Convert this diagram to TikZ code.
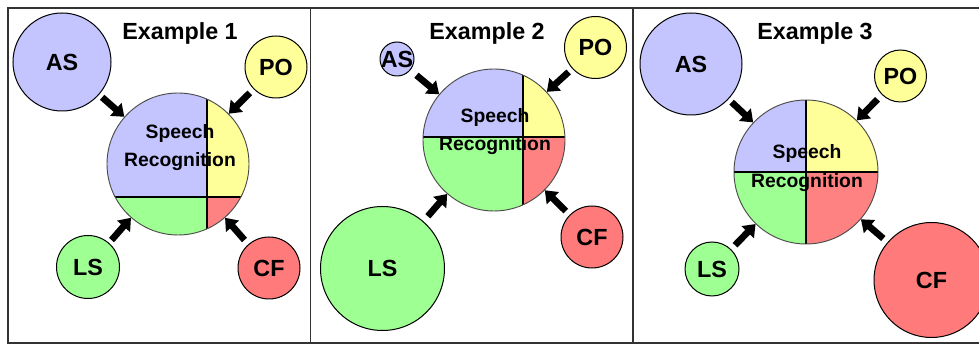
\documentclass[tikz,border=0pt]{standalone}
\usepackage{fontspec}
\setmainfont{Liberation Sans}
\usetikzlibrary{arrows.meta,calc}
\definecolor{cblue}{RGB}{196,196,255}
\definecolor{cyel}{RGB}{255,255,153}
\definecolor{cgrn}{RGB}{158,255,146}
\definecolor{cred}{RGB}{255,130,130}
\definecolor{cfred}{RGB}{255,122,122}
\newcommand\srpie[5]{%
  \begin{scope}
    \clip (#1,#2) circle[radius=#3];
    \fill[cblue] ({#1-#3-2},{#2-#3-2}) rectangle (#4,#5);
    \fill[cyel] (#4,{#2-#3-2}) rectangle ({#1+#3+2},#5);
    \fill[cgrn] ({#1-#3-2},#5) rectangle (#4,{#2+#3+2});
    \fill[cred] (#4,#5) rectangle ({#1+#3+2},{#2+#3+2});
    \draw[line width=0.8pt] (#4,{#2-#3-2}) -- (#4,{#2+#3+2});
    \draw[line width=0.8pt] ({#1-#3-2},#5) -- ({#1+#3+2},#5);
  \end{scope}}
\tikzset{
  cnode/.style={circle, draw=black, line width=0.75pt, inner sep=0pt,
    label={[lbl]center:#1}},
  lbl/.style={font=\bfseries\fontsize{17.5}{19}\selectfont, inner sep=0pt},
  srnode/.style={circle, draw=black!70, line width=0.7pt, inner sep=0pt},
  srtext/.style={font=\bfseries\fontsize{14.5}{21.5}\selectfont, align=center, inner sep=0pt},
  title/.style={font=\bfseries\fontsize{17.5}{19}\selectfont, inner sep=0pt},
  arr/.style={line width=5pt, -{Triangle[width=12.5pt,length=8.5pt]}},
  frame/.style={draw=black!80, line width=1.1pt}
}
\begin{document}
\begin{tikzpicture}[x=0.75pt,y=-0.75pt]
\useasboundingbox (0,0) rectangle (979,345);
\fill[white] (0,0) rectangle (979,345);
% frames
\draw[frame] (8,8) rectangle (995,343);
\draw[frame] (310.5,8) -- (310.5,343);
\draw[frame] (633,8) -- (633,343);

% ---------- Example 1 ----------
\node[title] (E1) at (180,33) {Example 1};
\srpie{178}{164}{71}{207}{197}
\node[srnode, minimum size=106.5pt] (SR1) at (178,164) {};
\node[srtext] (T1) at (180,147.5) {Speech\\Recognition};
\node[cnode=AS, fill=cblue, minimum size=73.5pt] (AS1) at (62,62) {};
\node[cnode=PO, fill=cyel, minimum size=46.5pt] (PO1) at (276,67) {};
\node[cnode=LS, fill=cgrn, minimum size=47.25pt] (LS1) at (88,267) {};
\node[cnode=CF, fill=cfred, minimum size=46.5pt] (CF1) at (269,268) {};
\coordinate (a1) at ($(SR1)!75.75pt!(AS1)$);
\coordinate (p1) at ($(SR1)!75.75pt!(PO1)$);
\coordinate (l1) at ($(SR1)!75.75pt!(LS1)$);
\coordinate (c1) at ($(SR1)!75.75pt!(CF1)$);
\draw[arr] (a1) -- (SR1);
\draw[arr] (p1) -- (SR1);
\draw[arr] (l1) -- (SR1);
\draw[arr] (c1) -- (SR1);

% ---------- Example 2 ----------
\node[title] (E2) at (487,33) {Example 2};
\srpie{494}{140}{71}{523}{137}
\node[srnode, minimum size=106.5pt] (SR2) at (494,140) {};
\node[srtext] (T2) at (495,131.5) {Speech\\Recognition};
\node[cnode=AS, fill=cblue, minimum size=25.5pt] (AS2) at (397,59) {};
\node[cnode=PO, fill=cyel, minimum size=46.5pt] (PO2) at (595.5,47.5) {};
\node[cnode=LS, fill=cgrn, minimum size=93pt] (LS2) at (382.5,268.5) {};
\node[cnode=CF, fill=cfred, minimum size=46.5pt] (CF2) at (592,237) {};
\coordinate (a2) at ($(SR2)!75.75pt!(AS2)$);
\coordinate (p2) at ($(SR2)!75.75pt!(PO2)$);
\coordinate (l2) at ($(SR2)!75.75pt!(LS2)$);
\coordinate (c2) at ($(SR2)!75.75pt!(CF2)$);
\draw[arr] (a2) -- (SR2);
\draw[arr] (p2) -- (SR2);
\draw[arr] (l2) -- (SR2);
\draw[arr] (c2) -- (SR2);

% ---------- Example 3 ----------
\node[title] (E3) at (815,33) {Example 3};
\srpie{806}{172}{72}{806}{172}
\node[srnode, minimum size=108pt] (SR3) at (806,172) {};
\node[srtext] (T3) at (807,168) {Speech\\Recognition};
\node[cnode=AS, fill=cblue, minimum size=76.5pt] (AS3) at (691,64) {};
\node[cnode=PO, fill=cyel, minimum size=39pt] (PO3) at (900.5,76) {};
\node[cnode=LS, fill=cgrn, minimum size=40.5pt] (LS3) at (712,269) {};
\node[cnode=CF, fill=cfred, minimum size=86.25pt] (CF3) at (931.5,280) {};
\coordinate (a3) at ($(SR3)!76.5pt!(AS3)$);
\coordinate (p3) at ($(SR3)!76.5pt!(PO3)$);
\coordinate (l3) at ($(SR3)!76.5pt!(LS3)$);
\coordinate (c3) at ($(SR3)!76.5pt!(CF3)$);
\draw[arr] (a3) -- (SR3);
\draw[arr] (p3) -- (SR3);
\draw[arr] (l3) -- (SR3);
\draw[arr] (c3) -- (SR3);
\end{tikzpicture}
\end{document}
